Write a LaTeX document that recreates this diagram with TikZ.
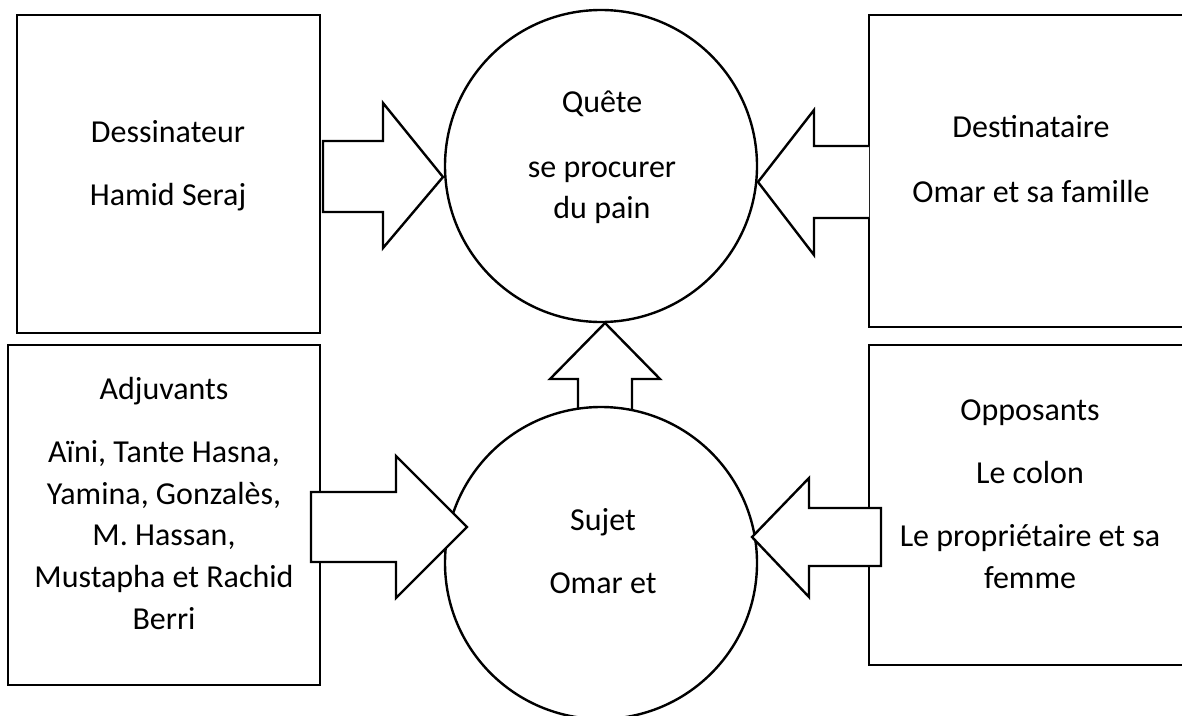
\documentclass[tikz,border=0pt]{standalone}
\usepackage{fontspec}
\setmainfont{Carlito}
\begin{document}
\begin{tikzpicture}[x=1pt,y=-1pt,
  ln/.style={line width=2.4pt, line join=miter, draw=black},
  box/.style={ln},
  ring/.style={ln, fill=white},
  barrow/.style={ln, fill=white},
  lbl/.style={anchor=base, inner sep=0pt, font=\fontsize{32}{40}\selectfont}]
\useasboundingbox (0,0) rectangle (1182,715);
\clip (0,0) rectangle (1182,715);
% boxes
\draw[box] (17,15) rectangle (320,333);
\draw[box] (8,345) rectangle (320,685);
\draw[box] (1192,15) -- (869,15) -- (869,327) -- (1192,327);
\draw[box] (1192,345) -- (869,345) -- (869,665) -- (1192,665);
% up arrow (Sujet -> Quete)
\draw[barrow] (578,414) -- (578,379) -- (550,379) -- (605,323) -- (660,379) -- (632,379) -- (632,414);
% circles
\node[circle, ring, minimum size=312pt, inner sep=0pt] (quete) at (601,166) {};
\node[circle, ring, minimum size=312pt, inner sep=0pt] (sujet) at (601,563) {};
% side arrows
\draw[barrow] (323,141) -- (383,141) -- (383,103) -- (443,177) -- (383,248) -- (383,212) -- (323,212) -- cycle;
\draw[barrow] (311,492) -- (396,492) -- (396,456) -- (467,527) -- (396,598) -- (396,562) -- (311,562) -- cycle;
\draw[barrow] (869,146) -- (814,146) -- (814,110) -- (758,182) -- (814,255) -- (814,218) -- (869,218);
\draw[barrow] (881,508) -- (809,508) -- (809,478) -- (752,537) -- (809,597) -- (809,566) -- (881,566) -- cycle;
% texts
\node[lbl] (t1) at (168,142) {Dessinateur};
\node[lbl] (t2) at (168,205) {Hamid Seraj};
\node[lbl] (t3) at (602,112) {Quête};
\node[lbl] (t4) at (602,177) {se procurer};
\node[lbl] (t5) at (602,218) {du pain};
\node[lbl] (t6) at (1031,137) {Destinataire};
\node[lbl] (t7) at (1031,202) {Omar et sa famille};
\node[lbl] (t8) at (164,399) {Adjuvants};
\node[lbl] (t9) at (164,462) {Aïni, Tante Hasna,};
\node[lbl] (t10) at (164,504) {Yamina, Gonzalès,};
\node[lbl] (t11) at (164,545) {M. Hassan,};
\node[lbl] (t12) at (164,587) {Mustapha et Rachid};
\node[lbl] (t13) at (164,629) {Berri};
\node[lbl] (t14) at (603,530) {Sujet};
\node[lbl] (t15) at (603,593) {Omar et};
\node[lbl] (t16) at (1030,420) {Opposants};
\node[lbl] (t17) at (1030,483) {Le colon};
\node[lbl] (t18) at (1030,546) {Le propriétaire et sa};
\node[lbl] (t19) at (1030,588) {femme};
\end{tikzpicture}
\end{document}
